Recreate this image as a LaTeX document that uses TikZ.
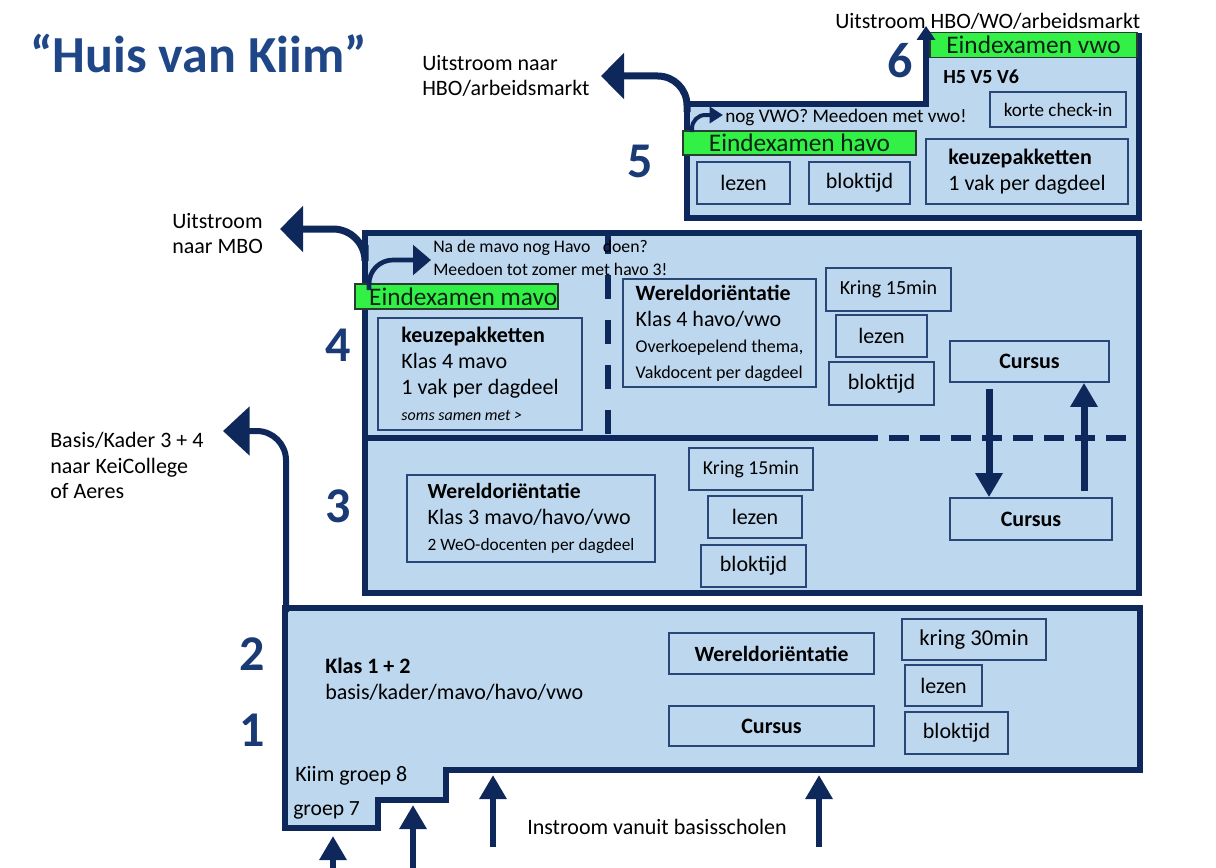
\documentclass[tikz,border=0pt]{standalone}
\usepackage{fontspec}
\setmainfont{Carlito}
\usetikzlibrary{arrows.meta}
\definecolor{navy}{RGB}{14,40,92}
\definecolor{titleblue}{RGB}{31,71,136}
\definecolor{numblue}{RGB}{26,58,118}
\definecolor{lightb}{RGB}{189,215,238}
\definecolor{boxline}{RGB}{40,70,120}
\definecolor{grn}{RGB}{51,240,70}
\definecolor{gborder}{RGB}{40,60,50}
\definecolor{gtext}{RGB}{10,35,20}
\newcommand\fpx[2]{\fontsize{#1}{#2}\selectfont}
\tikzset{
  sz/.style 2 args={minimum width=#1*0.75pt, minimum height=#2*0.75pt},
  sec/.style={fill=lightb, draw=navy, line width=5pt},
  divl/.style={draw=navy, line width=4.5pt},
  ibox/.style={draw=boxline, line width=1.3pt, fill=lightb, inner sep=0pt, font=\fpx{16.5}{19.5}, text=black},
  gbar/.style={fill=grn, draw=gborder, line width=0.9pt, inner sep=0pt, font=\fpx{19}{21}, text=gtext},
  lab/.style={anchor=base west, inner sep=0pt, font=\fpx{16.5}{19.5}, text=black},
  num/.style={anchor=base west, inner sep=0pt, font=\bfseries\fpx{37.5}{40}, text=numblue},
  bigarr/.style={draw=navy, line width=5.25pt, -{Triangle[width=33.75pt,length=17.25pt]}},
  midarr/.style={draw=navy, line width=4.5pt, -{Triangle[width=19.5pt,length=18pt]}},
  smallarr/.style={draw=navy, line width=3.5pt, -{Triangle[width=22pt,length=13.5pt]}},
}
\begin{document}
\begin{tikzpicture}[x=0.75pt,y=-0.75pt]
\useasboundingbox (0,0) rectangle (1216,867);

% ---- section outlines
\draw[sec] (687,218) -- (687,104) -- (926,104) -- (926,36) -- (1139,36) -- (1139,218) -- cycle;
\draw[sec] (365,233) rectangle (1139,593);
\draw[sec] (285,608) -- (1140,608) -- (1140,770) -- (446,770) -- (446,800) -- (378,800) -- (378,828) -- (285,828) -- cycle;

% ---- dividers in section 3/4
\draw[divl] (365,438) -- (858,438);
\draw[divl, dash pattern=on 15pt off 8.25pt] (858,438) -- (1139,438);
\draw[divl, dash pattern=on 18pt off 15.75pt] (608,230) -- (608,438);

% ---- title and numbers
\node[anchor=base west, inner sep=0pt, font=\bfseries\fpx{39}{42}, text=titleblue] (title) at (30,73) {“Huis van Kiim”};
\node[num] (n6) at (887,78) {6};
\node[num] (n5) at (627,177) {5};
\node[num] (n4) at (325,361) {4};
\node[num] (n3) at (325,522) {3};
\node[num] (n2) at (239,670) {2};
\node[num] (n1) at (239,746) {1};

% ---- section 5/6 boxes
\node[ibox, sz={93}{42}] (lz5) at (743.5,183) {lezen};
\node[ibox, sz={101}{42}] (bt5) at (859.5,183) {bloktijd};
\node[ibox, sz={202}{65}, align=left] (kz5) at (1027,171.5) {\bfseries keuzepakketten\\ \fpx{16.5}{21}1 vak per dagdeel};
\node[ibox, sz={136}{35}, font=\fpx{14.3}{17}] (kc) at (1058,109.5) {korte check-in};
\node[gbar, sz={207}{25}] (ev) at (1033.5,45) {Eindexamen vwo};
\node[gbar, sz={233}{24}] (eh) at (799.5,143) {Eindexamen havo};

% ---- section 4 boxes
\node[ibox, sz={204}{112}, align=left] (kz4) at (480,374) {\bfseries keuzepakketten\\ \fpx{16.5}{20.25}Klas 4 mavo\\ \fpx{16.5}{19.5}1 vak per dagdeel\\ \itshape\fpx{12}{16.5}soms samen met >};
\node[ibox, sz={193}{108}, align=left] (wo4) at (719.5,333) {\bfseries\fpx{16.4}{19}Wereldoriëntatie\\ \fpx{16.5}{21}Klas 4 havo/vwo\\ \fpx{13.5}{16.5}Overkoepelend thema,\\ \fpx{13.5}{16.5}Vakdocent per dagdeel};
\node[ibox, sz={125}{43}, font=\fpx{15}{17}] (kr4) at (888.5,289.5) {Kring 15min};
\node[ibox, sz={91}{42}] (lz4) at (881.5,336) {lezen};
\node[ibox, sz={105}{43}] (bt4) at (881.5,383.5) {bloktijd};
\node[ibox, sz={159}{41}, font=\bfseries\fpx{16.5}{19}] (cu4) at (1029.5,361.5) {Cursus};
\node[gbar, sz={203}{25}] (em) at (456.5,296.5) {\hspace*{10pt}Eindexamen mavo};

% ---- section 3 boxes
\node[ibox, sz={248}{87}, align=left] (wo3) at (531,518.5) {\bfseries\fpx{16.2}{19}Wereldoriëntatie\\ \fpx{16.5}{20.25}Klas 3 mavo/havo/vwo\\ \fpx{13}{17.25}2 WeO-docenten per dagdeel};
\node[ibox, sz={124}{42}, font=\fpx{14.8}{17}] (kr3) at (751,469) {Kring 15min};
\node[ibox, sz={94}{42}] (lz3) at (755,517) {lezen};
\node[ibox, sz={105}{42}] (bt3) at (753.5,566) {bloktijd};
\node[ibox, sz={162}{42}, font=\bfseries\fpx{16.5}{19}] (cu3) at (1031,519) {Cursus};

% ---- section 1/2 boxes
\node[ibox, sz={205}{41}, font=\bfseries\fpx{16.3}{19}] (wo12) at (771.5,653.5) {Wereldoriëntatie};
\node[ibox, sz={205}{40}, font=\bfseries\fpx{16.5}{19}] (cu12) at (771.5,726) {Cursus};
\node[ibox, sz={144}{41}, font=\fpx{17}{20}] (kr12) at (974,639.5) {kring 30min};
\node[ibox, sz={77}{41}] (lz12) at (943.5,685.5) {lezen};
\node[ibox, sz={103}{42}] (bt12) at (956.5,733) {bloktijd};

% ---- labels
\node[lab] (u6) at (835,29) {Uitstroom HBO/WO/arbeidsmarkt};
\node[lab, font=\bfseries\fpx{15}{18}] (h5) at (943,84) {H5 V5 V6};
\node[lab, font=\fpx{14.4}{17}] (vwo) at (725,122) {nog VWO? Meedoen met vwo!};
\node[lab] (u5a) at (422,70) {Uitstroom naar};
\node[lab] (u5b) at (422,95) {HBO/arbeidsmarkt};
\node[lab] (u4a) at (172,228) {Uitstroom};
\node[lab] (u4b) at (172,253) {naar MBO};
\node[lab, font=\fpx{13.3}{16}] (hv1) at (433,252) {Na de mavo nog Havo\hspace{0.7em}doen?};
\node[lab, font=\fpx{13.3}{16}] (hv2) at (433,275) {Meedoen tot zomer met havo 3!};
\node[lab] (bk1) at (50,447) {Basis/Kader 3 + 4};
\node[lab] (bk2) at (50,473) {naar KeiCollege};
\node[lab] (bk3) at (50,498) {of Aeres};
\node[lab, font=\bfseries\fpx{16.5}{19.5}] (k12a) at (325,673) {Klas 1 + 2};
\node[lab] (k12b) at (325,699) {basis/kader/mavo/havo/vwo};
\node[lab] (g8) at (295,781) {Kiim groep 8};
\node[lab, font=\fpx{16.2}{19}] (g7) at (293,815) {groep 7};
\node[lab] (ins) at (527,834) {Instroom vanuit basisscholen};

% ---- arrow coordinates
\coordinate (a5s) at (687,112);   \coordinate (a5t) at (601,76);
\coordinate (a4s) at (365,245);   \coordinate (a4t) at (280,229);
\coordinate (a12s) at (286,612);  \coordinate (a12t) at (223,431);
\coordinate (a6s) at (926,48);    \coordinate (a6t) at (926,26);
\coordinate (s5s) at (692,132);   \coordinate (s5t) at (723,115);
\coordinate (s4s) at (369,290);   \coordinate (s4t) at (431,260);
\coordinate (dA) at (989,0);      \coordinate (uA) at (1084,0);
\coordinate (i1b) at (333,875);   \coordinate (i1t) at (333,836);
\coordinate (i2b) at (413,875);   \coordinate (i2t) at (413,805);
\coordinate (i3b) at (493,847);   \coordinate (i3t) at (493,775);
\coordinate (i4b) at (819,847);   \coordinate (i4t) at (819,775);

% ---- outflow arrows
\draw[bigarr, rounded corners=22pt] (a5s) |- (a5t);
\draw[bigarr, rounded corners=24pt] (a4s) |- (a4t);
\draw[bigarr, line width=4.5pt, -{Triangle[width=36pt,length=20pt]}, rounded corners=22pt] (a12s) |- (a12t);
\draw[draw=navy, line width=4pt, -{Triangle[width=13.5pt,length=10.5pt]}] (a6s) -- (a6t);
\draw[smallarr, line width=3pt, -{Triangle[width=12pt,length=10pt]}, rounded corners=10pt] (s5s) |- (s5t);
\draw[smallarr, rounded corners=18pt] (s4s) |- (s4t);

% ---- cursus arrows
\draw[midarr, line width=5.25pt, shorten <=4.5pt] (cu4.south -| dA) -- (cu3.north -| dA);
\draw[midarr, line width=5.25pt, shorten <=4.5pt] (cu3.north -| uA) -- (cu4.south -| uA);

% ---- inflow arrows
\draw[midarr] (i1b) -- (i1t);
\draw[midarr] (i2b) -- (i2t);
\draw[midarr] (i3b) -- (i3t);
\draw[midarr] (i4b) -- (i4t);
\end{tikzpicture}
\end{document}
